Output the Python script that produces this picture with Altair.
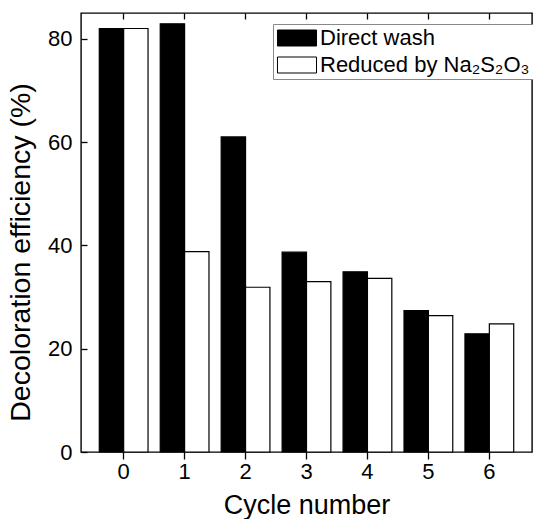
import altair as alt
import pandas as pd

cycles = [0, 1, 2, 3, 4, 5, 6]
direct_wash = [82.0, 82.9, 61.0, 38.7, 34.9, 27.4, 22.9]
reduced = [82.0, 38.8, 31.9, 33.0, 33.6, 26.4, 24.8]
series_names = ["Direct wash", "Reduced by Na\u2082S\u2082O\u2083"]
y_ticks = [0, 20, 40, 60, 80]

rows = []
for c, a, b in zip(cycles, direct_wash, reduced):
    rows.append({"cycle": c, "series": series_names[0], "value": a})
    rows.append({"cycle": c, "series": series_names[1], "value": b})
df = pd.DataFrame(rows)

FONT = "Liberation Sans"

xscale = alt.Scale(paddingInner=0.2, paddingOuter=0.3)

bars = alt.Chart(df).mark_bar(stroke="black", strokeWidth=1.2).encode(
    x=alt.X("cycle:O", scale=xscale,
            axis=alt.Axis(orient="bottom", title="Cycle number", labelAngle=0,
                          domain=False, tickSize=7, tickWidth=1.3, tickColor="black",
                          labelFontSize=22, labelPadding=2, labelColor="black",
                          titleFontSize=27, titleFontWeight="normal", titlePadding=10,
                          titleColor="black")),
    xOffset=alt.XOffset("series:N", sort=series_names),
    y=alt.Y("value:Q", scale=alt.Scale(domain=[0, 85], nice=False, zero=True),
            axis=alt.Axis(values=y_ticks, title="Decoloration efficiency (%)",
                          offset=-6, domain=False, tickSize=6, tickWidth=1.3,
                          tickColor="black", labelFontSize=22, labelPadding=9,
                          labelColor="black", titleFontSize=28.5,
                          titleFontWeight="normal", titlePadding=12, titleY=239,
                          titleColor="black", grid=False)),
    color=alt.Color("series:N", sort=series_names,
                    scale=alt.Scale(domain=series_names, range=["black", "white"]),
                    legend=alt.Legend(orient="none", legendX=192, legendY=11,
                                      title=None,
                                      symbolType="M-2.44,-1L2.44,-1L2.44,1L-2.44,1Z",
                                      symbolSize=256, symbolStrokeColor="black",
                                      symbolStrokeWidth=1, symbolOpacity=1,
                                      symbolOffset=10,
                                      labelFontSize=22, labelOffset=12, labelColor="black",
                                      labelLimit=400, rowPadding=5, padding=3,
                                      strokeColor="#888", fillColor="white")),
)

top = alt.Chart(pd.DataFrame({"cycle": cycles})).mark_point(opacity=0).encode(
    x=alt.X("cycle:O", scale=xscale,
            axis=alt.Axis(orient="top", labels=False, title=None, domain=False,
                          offset=-6, tickSize=6, tickWidth=1.3, tickColor="black")),
    y=alt.value(0),
)

chart = alt.layer(bars, top).resolve_axis(x="independent").properties(
    width=451, height=439,
    autosize=alt.AutoSizeParams(type="none"),
    padding={"left": 81, "top": 13, "right": 1, "bottom": 67},
).configure(font=FONT).configure_view(stroke="black", strokeWidth=1.4).configure_axis(
    grid=False, labelFont=FONT, titleFont=FONT
).configure_legend(labelFont=FONT)

chart.save("out.html", embed_options={"renderer": "svg", "actions": False})
